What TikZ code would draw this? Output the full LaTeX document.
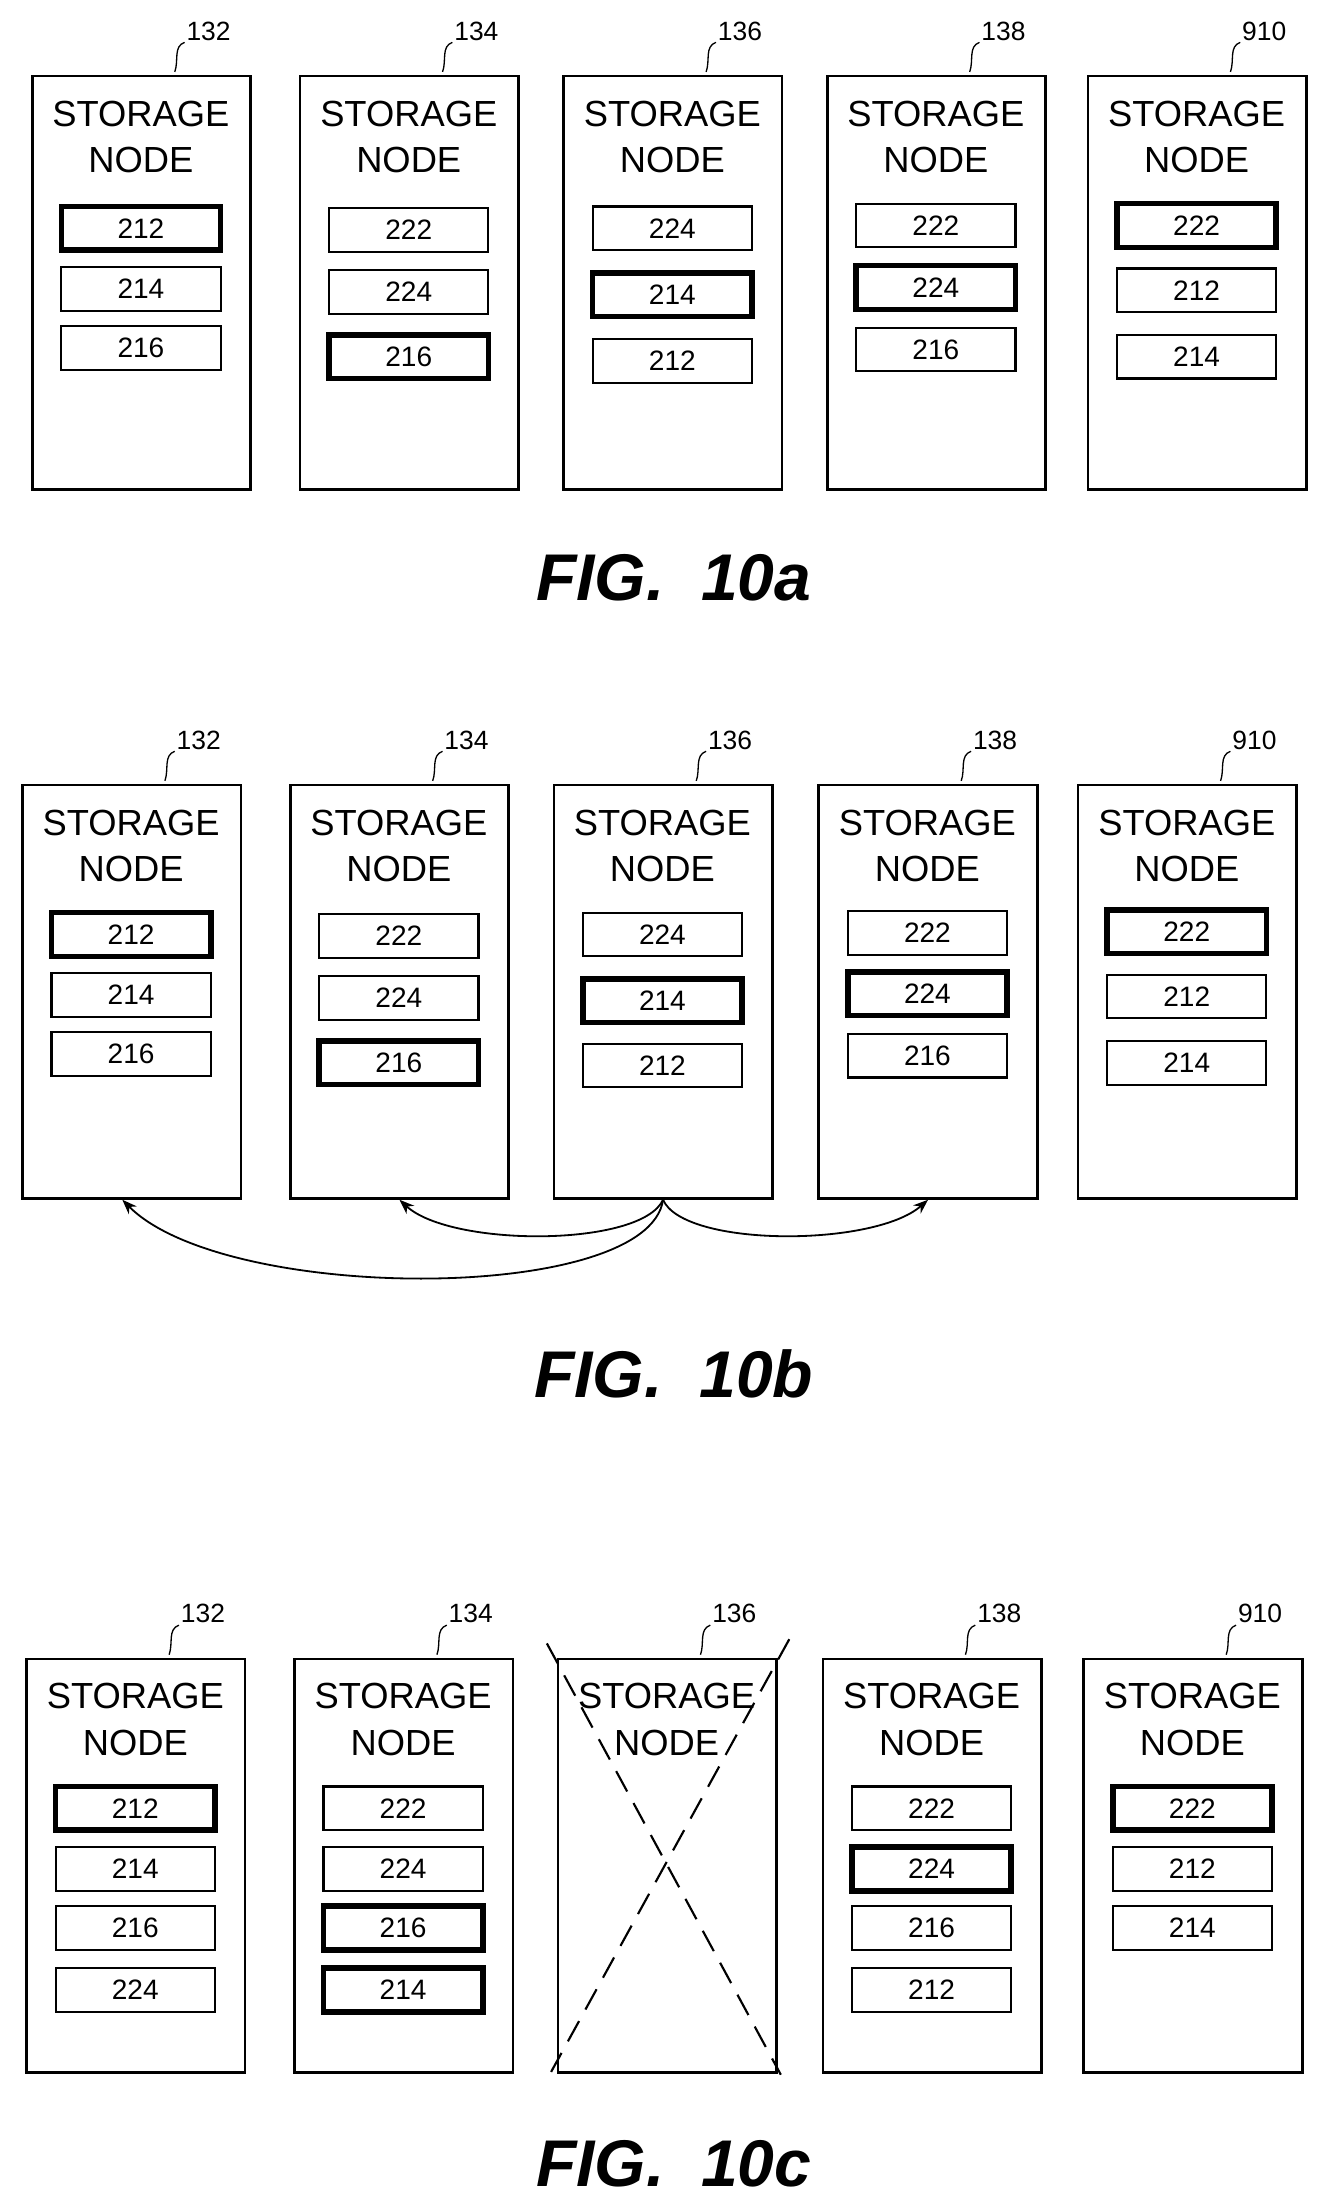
\documentclass[tikz,border=0pt]{standalone}
\usepackage{fontspec}
\setmainfont{Liberation Sans}
\usetikzlibrary{arrows.meta,positioning}
\tikzset{
  snode/.style={draw,line width=1.6pt,minimum width=4.65cm,minimum height=8.8cm,inner sep=0pt},
  sntext/.style={align=center,font=\fontsize{22}{28}\selectfont,inner sep=0pt},
  srow/.style={draw,line width=1.3pt,minimum width=3.39cm,minimum height=0.93cm,inner sep=0pt,font=\fontsize{17}{20}\selectfont},
  hot/.style={line width=3.4pt},
  reflab/.style={font=\fontsize{16}{19}\selectfont,inner sep=1pt},
  figlab/.style={font=\fontsize{40}{44}\selectfont\bfseries\itshape},
}
% box, STORAGE NODE text and reference number
\newcommand\stnode[4]{%
  \node[snode,anchor=north west] (#1) at (#2,#3) {};
  \node[sntext] (#1t) at (#2+78,#3+44) {STORAGE\\NODE};
  \node[reflab] (#1l) at (#2+126,#3-31) {#4};
  \draw[line width=0.8pt] (#2+102,#3-2) to[out=70,in=200] (#1l.south west);
}
\newcommand\strow[5]{\node[srow,#5] (#1) at (#2,#3) {#4};}

\begin{document}
\begin{tikzpicture}[x=0.03cm,y=-0.03cm]
\useasboundingbox (0,0) rectangle (940,1568);

% FIG 10a
\stnode{a132}{22}{53}{132}
\stnode{a134}{212}{53}{134}
\stnode{a136}{399}{53}{136}
\stnode{a138}{586}{53}{138}
\stnode{a910}{771}{53}{910}
\strow{a132r1}{100}{162}{212}{hot} \strow{a132r2}{100}{205}{214}{} \strow{a132r3}{100}{247}{216}{}
\strow{a134r1}{290}{163}{222}{} \strow{a134r2}{290}{207}{224}{} \strow{a134r3}{290}{253}{216}{hot}
\strow{a136r1}{477}{162}{224}{} \strow{a136r2}{477}{209}{214}{hot} \strow{a136r3}{477}{256}{212}{}
\strow{a138r1}{664}{160}{222}{} \strow{a138r2}{664}{204}{224}{hot} \strow{a138r3}{664}{248}{216}{}
\strow{a910r1}{849}{160}{222}{hot} \strow{a910r2}{849}{206}{212}{} \strow{a910r3}{849}{253}{214}{}
\node[figlab] (figa) at (478,410) {FIG.\ \ 10a};

% FIG 10b
\stnode{b132}{15}{556}{132}
\stnode{b134}{205}{556}{134}
\stnode{b136}{392}{556}{136}
\stnode{b138}{580}{556}{138}
\stnode{b910}{764}{556}{910}
\strow{b132r1}{93}{663}{212}{hot} \strow{b132r2}{93}{706}{214}{} \strow{b132r3}{93}{748}{216}{}
\strow{b134r1}{283}{664}{222}{} \strow{b134r2}{283}{708}{224}{} \strow{b134r3}{283}{754}{216}{hot}
\strow{b136r1}{470}{663}{224}{} \strow{b136r2}{470}{710}{214}{hot} \strow{b136r3}{470}{756}{212}{}
\strow{b138r1}{658}{662}{222}{} \strow{b138r2}{658}{705}{224}{hot} \strow{b138r3}{658}{749}{216}{}
\strow{b910r1}{842}{661}{222}{hot} \strow{b910r2}{842}{707}{212}{} \strow{b910r3}{842}{754}{214}{}
\draw[-{Stealth[length=9pt]},line width=1.1pt] (b136.south) .. controls (460,925) and (160,925) .. ([xshift=-0.2cm]b132.south);
\draw[-{Stealth[length=9pt]},line width=1.1pt] (b136.south) .. controls (455,885) and (320,885) .. (b134.south);
\draw[-{Stealth[length=9pt]},line width=1.1pt] (b136.south) .. controls (485,885) and (620,885) .. (b138.south);
\node[figlab] (figb) at (478,975) {FIG.\ \ 10b};

% FIG 10c
\stnode{c132}{18}{1176}{132}
\stnode{c134}{208}{1176}{134}
\stnode{c136}{395}{1176}{136}
\stnode{c138}{583}{1176}{138}
\stnode{c910}{768}{1176}{910}
\strow{c132r1}{96}{1283}{212}{hot} \strow{c132r2}{96}{1326}{214}{} \strow{c132r3}{96}{1368}{216}{} \strow{c132r4}{96}{1412}{224}{}
\strow{c134r1}{286}{1283}{222}{} \strow{c134r2}{286}{1326}{224}{} \strow{c134r3}{286}{1368}{216}{hot} \strow{c134r4}{286}{1412}{214}{hot}
\strow{c138r1}{661}{1283}{222}{} \strow{c138r2}{661}{1326}{224}{hot} \strow{c138r3}{661}{1368}{216}{} \strow{c138r4}{661}{1412}{212}{}
\strow{c910r1}{846}{1283}{222}{hot} \strow{c910r2}{846}{1326}{212}{} \strow{c910r3}{846}{1368}{214}{}
\coordinate (x1) at (388,1166);
\coordinate (x2) at (554,1472);
\coordinate (x3) at (560,1163);
\coordinate (x4) at (391,1470);
\draw[dash pattern=on 14pt off 8pt,line width=1.3pt] (x1) -- (x2);
\draw[dash pattern=on 14pt off 8pt,line width=1.3pt] (x3) -- (x4);
\node[figlab] (figc) at (478,1535) {FIG.\ \ 10c};
\end{tikzpicture}
\end{document}
